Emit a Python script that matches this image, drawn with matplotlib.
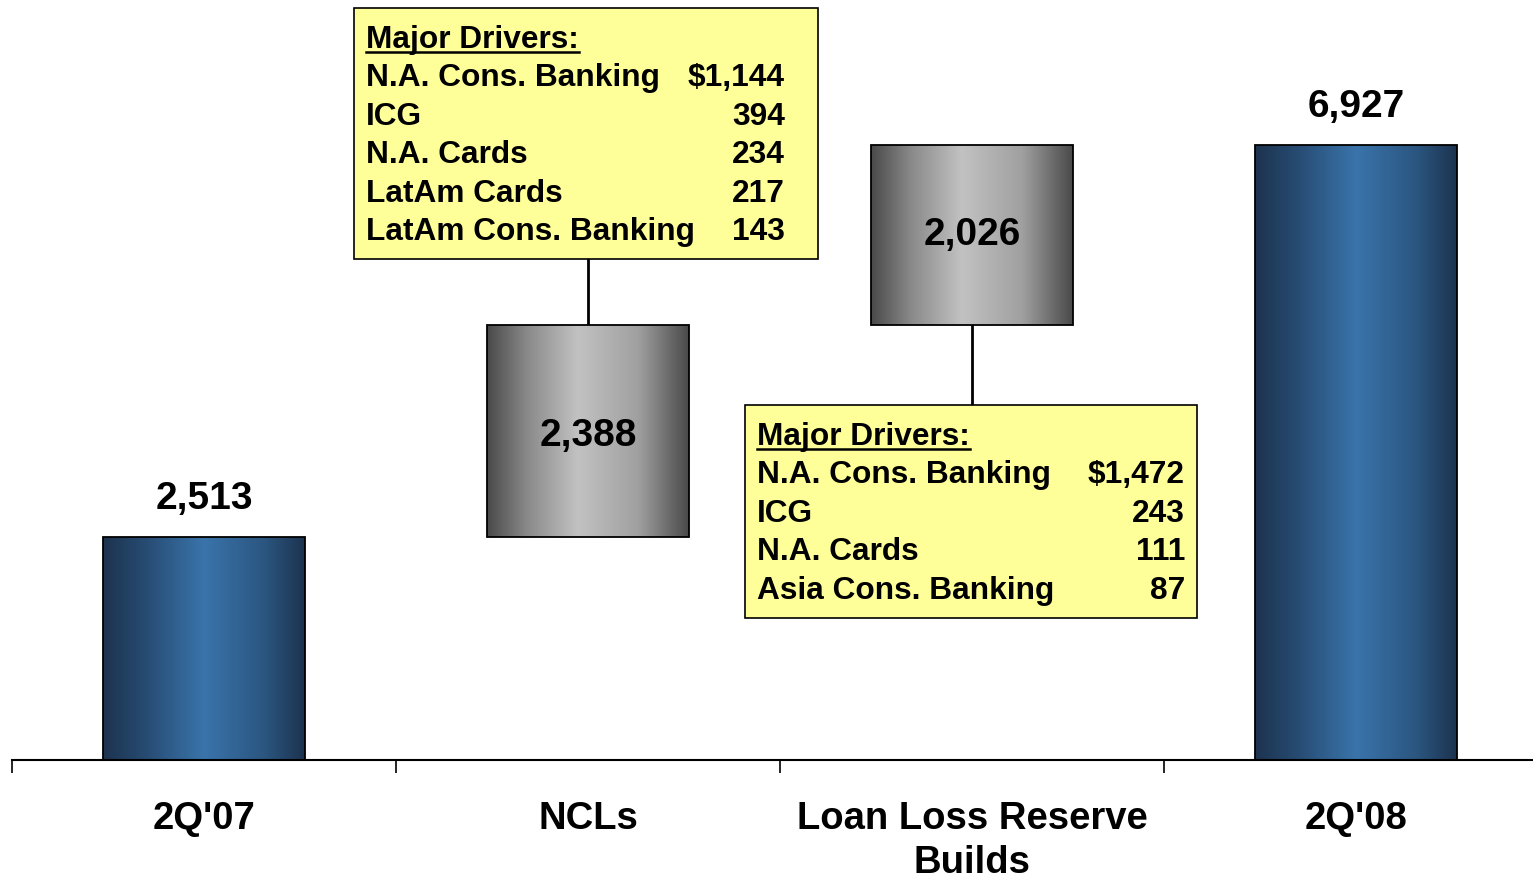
import numpy as np
import matplotlib
matplotlib.use("Agg")
import matplotlib.pyplot as plt
from matplotlib.colors import LinearSegmentedColormap

plt.rcParams['font.family'] = ['Liberation Sans', 'DejaVu Sans']
plt.rcParams['font.weight'] = 'bold'

# data
categories = ["2Q'07", "NCLs", "Loan Loss Reserve\nBuilds", "2Q'08"]
start_value = 2513
ncl_change = 2388
llr_change = 2026
end_value = 6927

ncl_drivers = ["N.A. Cons. Banking", "ICG", "N.A. Cards", "LatAm Cards", "LatAm Cons. Banking"]
ncl_driver_vals = ["$1,144", "394", "234", "217", "143"]
llr_drivers = ["N.A. Cons. Banking", "ICG", "N.A. Cards", "Asia Cons. Banking"]
llr_driver_vals = ["$1,472", "243", "111", "87"]

bottoms = [0, start_value, start_value + ncl_change, 0]
heights = [start_value, ncl_change, llr_change, end_value]
kinds = ["total", "delta", "delta", "total"]

blue_cmap = LinearSegmentedColormap.from_list(
    "blue", [(0, "#1d334f"), (0.2, "#264a70"), (0.5, "#3a74ab"), (0.8, "#2b5680"), (1, "#1d334f")])
gray_cmap = LinearSegmentedColormap.from_list(
    "gray", [(0, "#4a4a4a"), (0.2, "#8a8a8a"), (0.45, "#c2c2c2"), (0.75, "#a0a0a0"), (1, "#4a4a4a")])

fig = plt.figure(figsize=(15.33, 8.81), dpi=100)
ax = fig.add_axes([12 / 1533, 121 / 881, 1536 / 1533, 760 / 881])
ax.set_xlim(-0.5, 3.5)
ax.set_ylim(0, 8565)

bar_w = 0.525
grad = np.linspace(0, 1, 256).reshape(1, -1)

for i, (b, h, k) in enumerate(zip(bottoms, heights, kinds)):
    rect = ax.bar(i, h, bottom=b, width=bar_w, facecolor="none",
                  edgecolor="black", linewidth=1.3, zorder=3)[0]
    cmap = blue_cmap if k == "total" else gray_cmap
    im = ax.imshow(grad, cmap=cmap, aspect="auto", zorder=2,
                   extent=(i - bar_w / 2, i + bar_w / 2, b, b + h))
    im.set_clip_path(rect)
    if k == "total":
        ax.text(i, b + h + 430, f"{h:,}", ha="center", va="center", fontsize=28, fontweight="bold")
    else:
        off = -60 if i == 1 else 0
        ax.text(i, b + h / 2 + off, f"{h:,}", ha="center", va="center", fontsize=28, fontweight="bold")

ax.set_xlim(-0.5, 3.5)
ax.set_ylim(0, 8565)

# axis styling
for s in ["top", "right", "left"]:
    ax.spines[s].set_visible(False)
ax.spines["bottom"].set_linewidth(1.5)
ax.set_yticks([])
ax.set_xticks([-0.5, 0.5, 1.5, 2.5, 3.5])
ax.set_xticklabels([])
ax.tick_params(axis="x", direction="out", length=9, width=1.2)
for i, c in enumerate(categories):
    ax.text(i, -465, c, ha="center", va="top", fontsize=27.5, fontweight="bold",
            linespacing=1.27)


def driver_box(x0, x1, y0, y1, names, vals, rpad):
    ax.add_patch(plt.Rectangle((x0, y0), x1 - x0, y1 - y0, facecolor="#ffff99",
                               edgecolor="black", linewidth=1.2, zorder=4))
    step = 38.4 / 0.08874
    xl = x0 + 12 / 384
    xr = x1 - rpad / 384
    yy = y1 - 32 / 0.08874
    t = ax.text(xl, yy, "Major Drivers:", ha="left", va="center", fontsize=22.8,
                fontweight="bold", zorder=5)
    fig.canvas.draw()
    bb = t.get_window_extent().transformed(ax.transData.inverted())
    ax.plot([bb.x0, bb.x1], [bb.y0 + 30, bb.y0 + 30], color="black", lw=1.8, zorder=5)
    for j, (n, v) in enumerate(zip(names, vals)):
        y = yy - (j + 1) * step
        ax.text(xl, y, n, ha="left", va="center", fontsize=22.8, fontweight="bold", zorder=5)
        ax.text(xr, y, v, ha="right", va="center", fontsize=22.8, fontweight="bold", zorder=5)


# NCL box above NCL bar
ncl_top = start_value + ncl_change
driver_box(0.3906, 1.599, 5646, 8474, ncl_drivers, ncl_driver_vals, 33)
ax.plot([1, 1], [ncl_top, 5646], color="black", lw=2, zorder=1)

# LLR box below LLR bar
llr_bottom = start_value + ncl_change
driver_box(1.409, 2.586, 1600, 4000, llr_drivers, llr_driver_vals, 12)
ax.plot([2, 2], [4000, llr_bottom], color="black", lw=2, zorder=1)

fig.savefig("out.png", dpi=100)
